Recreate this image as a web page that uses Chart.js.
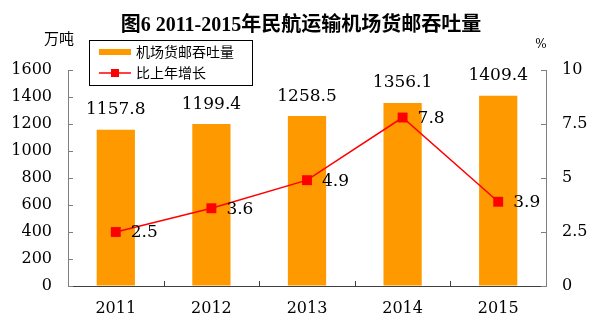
<!DOCTYPE html>
<html>
<head>
<meta charset="utf-8">
<script src="https://cdn.jsdelivr.net/npm/chart.js@4/dist/chart.umd.min.js"></script>
<style>
  body { margin: 0; background: #fff; }
  #wrap { width: 604px; height: 323px; }
</style>
</head>
<body>
<div id="wrap"><canvas id="c" width="604" height="323"></canvas></div>
<script>
// 数据
const years = ["2011", "2012", "2013", "2014", "2015"];
const cargo = [1157.8, 1199.4, 1258.5, 1356.1, 1409.4];
const growth = [2.5, 3.6, 4.9, 7.8, 3.9];
const cargoLabel = "机场货邮吞吐量";
const growthLabel = "比上年增长";
const titleText = "图6 2011-2015年民航运输机场货邮吞吐量";

const serif = "'DejaVu Serif', 'Liberation Serif', serif";
const cjk = "'Liberation Serif', 'Noto Sans CJK SC', sans-serif";

// 标题、单位、图例、数值标签、内刻度
const extras = {
  id: "extras",
  afterDraw: function(chart) {
    const ctx = chart.ctx;
    const area = chart.chartArea;
    ctx.save();

    // 标题
    ctx.fillStyle = "#000";
    ctx.font = "bold 20px " + cjk;
    ctx.textAlign = "center";
    ctx.textBaseline = "middle";
    ctx.fillText(titleText, 301, 26);

    // 单位
    ctx.font = "15px 'Noto Sans CJK SC', sans-serif";
    ctx.fillText("万吨", 59, 38);
    ctx.font = "12px " + serif;
    ctx.fillText("%", 541, 45);

    // 内刻度
    ctx.lineWidth = 1;
    ctx.strokeStyle = "#7f7f7f";
    const y = chart.scales.y;
    y.ticks.forEach(function(t) {
      const py = Math.round(y.getPixelForValue(t.value)) + 0.5;
      ctx.beginPath();
      ctx.moveTo(area.left, py);
      ctx.lineTo(area.left + 5, py);
      ctx.stroke();
    });
    const y1 = chart.scales.y1;
    y1.ticks.forEach(function(t) {
      const py = Math.round(y1.getPixelForValue(t.value)) + 0.5;
      ctx.beginPath();
      ctx.moveTo(area.right, py);
      ctx.lineTo(area.right - 5, py);
      ctx.stroke();
    });
    ctx.strokeStyle = "#404040";
    const step = (area.right - area.left) / years.length;
    for (let i = 1; i < years.length; i++) {
      const px = Math.round(area.left + i * step) + 0.5;
      ctx.beginPath();
      ctx.moveTo(px, area.bottom);
      ctx.lineTo(px, area.bottom - 5);
      ctx.stroke();
    }

    // 数值标签
    ctx.fillStyle = "#000";
    ctx.font = "17px " + serif;
    const barMeta = chart.getDatasetMeta(1);
    barMeta.data.forEach(function(el, i) {
      ctx.textAlign = "center";
      ctx.fillText(cargo[i].toFixed(1), el.x, el.y - 20);
    });
    const lineMeta = chart.getDatasetMeta(0);
    lineMeta.data.forEach(function(el, i) {
      ctx.textAlign = "left";
      ctx.fillText(growth[i].toFixed(1), el.x + 15, el.y + 1);
    });

    // 图例
    ctx.fillStyle = "#fff";
    ctx.fillRect(89, 40, 163, 45);
    ctx.strokeStyle = "#000";
    ctx.strokeRect(89.5, 40.5, 163, 45);
    ctx.fillStyle = "#ff9900";
    ctx.fillRect(99, 49, 32, 6);
    ctx.strokeStyle = "#ff0000";
    ctx.lineWidth = 1.5;
    ctx.beginPath();
    ctx.moveTo(99, 73);
    ctx.lineTo(131, 73);
    ctx.stroke();
    ctx.fillStyle = "#ff0000";
    ctx.fillRect(111, 69, 8, 8);
    ctx.fillStyle = "#000";
    ctx.font = "14px 'Noto Sans CJK SC', sans-serif";
    ctx.textAlign = "left";
    ctx.fillText(cargoLabel, 136, 52);
    ctx.fillText(growthLabel, 136, 73);

    ctx.restore();
  }
};

new Chart(document.getElementById("c"), {
  type: "bar",
  data: {
    labels: years,
    datasets: [
      {
        type: "line",
        label: growthLabel,
        data: growth,
        yAxisID: "y1",
        borderColor: "#ff0000",
        backgroundColor: "#ff0000",
        borderWidth: 1.5,
        pointStyle: "rect",
        pointRadius: 7,
        pointBorderWidth: 0,
        tension: 0,
        fill: false,
        order: 1
      },
      {
        type: "bar",
        label: cargoLabel,
        data: cargo,
        yAxisID: "y",
        backgroundColor: "#ff9900",
        barPercentage: 0.4,
        categoryPercentage: 1,
        order: 2
      }
    ]
  },
  options: {
    responsive: false,
    animation: false,
    layout: { padding: { top: 70, left: 0, right: 0, bottom: 0 }, autoPadding: false },
    plugins: {
      legend: { display: false },
      title: { display: false },
      tooltip: { enabled: false }
    },
    scales: {
      x: {
        grid: { display: true, drawOnChartArea: false, drawTicks: false },
        border: { display: true, color: "#404040" },
        ticks: { color: "#000", font: { family: serif, size: 16 }, padding: 13 },
        afterFit: function(s) { s.height = 37; }
      },
      y: {
        position: "left",
        min: 0,
        max: 1600,
        ticks: {
          stepSize: 200, color: "#000", font: { family: serif, size: 16 }, padding: 16,
          callback: function(v) { return String(v); }
        },
        grid: { display: true, drawOnChartArea: false, drawTicks: false },
        border: { display: true, color: "#7f7f7f" },
        afterFit: function(s) { s.width = 68; }
      },
      y1: {
        position: "right",
        min: 0,
        max: 10,
        ticks: {
          stepSize: 2.5, color: "#000", font: { family: serif, size: 16 }, padding: 16,
          callback: function(v) { return String(v); }
        },
        grid: { display: true, drawOnChartArea: false, drawTicks: false },
        border: { display: true, color: "#7f7f7f" },
        afterFit: function(s) { s.width = 58; }
      }
    }
  },
  plugins: [extras]
});
</script>
</body>
</html>
